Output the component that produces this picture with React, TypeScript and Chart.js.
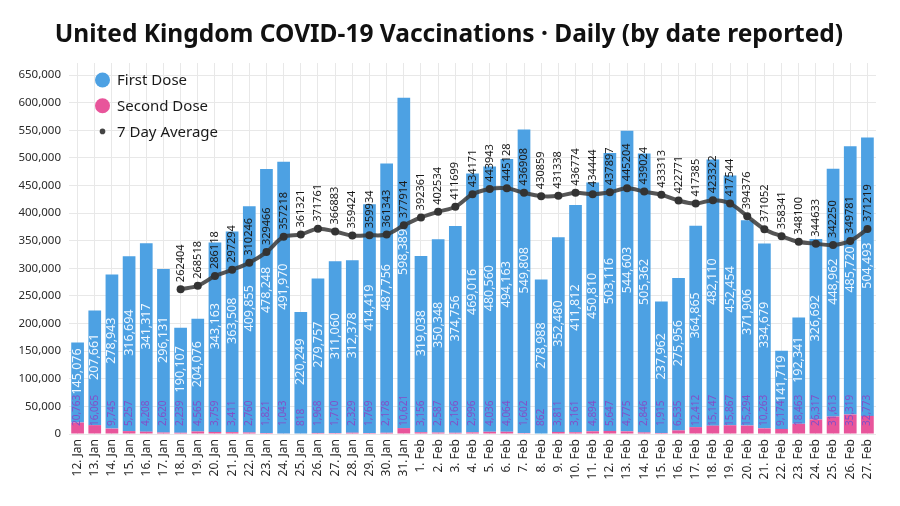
import React, { useEffect, useRef } from "react";
import { Chart, registerables } from "chart.js";

Chart.register(...registerables);

const categories = [
  "12. Jan", "13. Jan", "14. Jan", "15. Jan", "16. Jan", "17. Jan", "18. Jan", "19. Jan", "20. Jan", "21. Jan",
  "22. Jan", "23. Jan", "24. Jan", "25. Jan", "26. Jan", "27. Jan", "28. Jan", "29. Jan", "30. Jan", "31. Jan",
  "1. Feb", "2. Feb", "3. Feb", "4. Feb", "5. Feb", "6. Feb", "7. Feb", "8. Feb", "9. Feb", "10. Feb",
  "11. Feb", "12. Feb", "13. Feb", "14. Feb", "15. Feb", "16. Feb", "17. Feb", "18. Feb", "19. Feb", "20. Feb",
  "21. Feb", "22. Feb", "23. Feb", "24. Feb", "25. Feb", "26. Feb", "27. Feb",
];

const firstDose = [
  145076, 207661, 278943, 316694, 341317, 296131, 190107, 204076, 343163, 363508,
  409855, 478248, 491970, 220249, 279757, 311060, 312378, 414419, 487756, 598389,
  319038, 350348, 374756, 469016, 480560, 494163, 549808, 278988, 352480, 411812,
  450810, 503116, 544603, 505362, 237962, 275956, 364865, 482110, 452454, 371906,
  334679, 141719, 192341, 326692, 448962, 485720, 504493,
];

const secondDose = [
  20763, 16065, 9745, 5257, 4208, 2620, 2239, 4565, 3759, 3411,
  2760, 1821, 1043, 818, 1968, 1710, 2329, 1769, 2178, 10621,
  3156, 2587, 2166, 2996, 4036, 4064, 1602, 862, 3811, 3161,
  4894, 5647, 4775, 2846, 1915, 6535, 12412, 15147, 15867, 15294,
  10263, 9174, 18463, 26317, 31613, 35319, 32773,
];

const sevenDayAvg = [
  null, null, null, null, null, null, 262404, 268518, 286118, 297294,
  310246, 329466, 357218, 361321, 371761, 366883, 359424, 359934, 361343, 377914,
  392361, 402534, 411699, 434171, 443943, 445128, 436908, 430859, 431338, 436774,
  434444, 437897, 445204, 439024, 433313, 422771, 417385, 423322, 417544, 394376,
  371052, 358341, 348100, 344633, 342250, 349781, 371219,
];

const yTicks = [0, 50000, 100000, 150000, 200000, 250000, 300000, 350000, 400000, 450000, 500000, 550000, 600000, 650000];

const TITLE = "United Kingdom COVID-19 Vaccinations · Daily (by date reported)";
const BLUE = "#4da1e3";
const PINK = "#e8559b";
const FONT = "'Noto Sans', sans-serif";

const fmt = (v: number) => v.toLocaleString("en-US");

const decorPlugin = {
  id: "decor",
  afterDatasetsDraw(chart: any) {
    const ctx = chart.ctx;
    const yScale = chart.scales.y;
    const zeroY = yScale.getPixelForValue(0);
    const metaFirst = chart.getDatasetMeta(0);
    const metaSecond = chart.getDatasetMeta(1);
    const metaLine = chart.getDatasetMeta(2);
    ctx.save();
    // first dose labels
    ctx.font = `12.5px ${FONT}`;
    ctx.fillStyle = "#eef7ff";
    ctx.textAlign = "center";
    ctx.textBaseline = "middle";
    metaFirst.data.forEach((el: any, i: number) => {
      const cy = (el.y + el.base) / 2 - 11;
      ctx.save();
      ctx.translate(el.x, cy);
      ctx.rotate(-Math.PI / 2);
      ctx.fillText(fmt(firstDose[i]), 0, 0);
      ctx.restore();
    });
    // second dose labels
    ctx.font = `10px ${FONT}`;
    ctx.fillStyle = "#8250c8";
    ctx.textAlign = "left";
    metaSecond.data.forEach((el: any, i: number) => {
      ctx.save();
      ctx.translate(el.x, zeroY - 8);
      ctx.rotate(-Math.PI / 2);
      ctx.fillText(fmt(secondDose[i]), 0, 0);
      ctx.restore();
    });
    // 7 day labels
    ctx.font = `11px ${FONT}`;
    ctx.fillStyle = "#1a1a1a";
    metaLine.data.forEach((el: any, i: number) => {
      const v = sevenDayAvg[i];
      if (v == null) return;
      ctx.save();
      ctx.translate(el.x, el.y - 7);
      ctx.rotate(-Math.PI / 2);
      ctx.fillText(String(v), 0, 0);
      ctx.restore();
    });
    ctx.restore();
  },
  afterDraw(chart: any) {
    const ctx = chart.ctx;
    ctx.save();
    // title
    ctx.font = `bold 24.5px ${FONT}`;
    ctx.fillStyle = "#111";
    ctx.textAlign = "center";
    ctx.textBaseline = "middle";
    ctx.fillText(TITLE, 449, 35);
    // legend
    const items = [
      { label: "First Dose", color: BLUE, r: 7.5 },
      { label: "Second Dose", color: PINK, r: 7.5 },
      { label: "7 Day Average", color: "#444", r: 2.8 },
    ];
    ctx.font = `15px ${FONT}`;
    ctx.textAlign = "left";
    items.forEach((it, k) => {
      const y = 80 + k * 25.7;
      ctx.beginPath();
      ctx.arc(102.5, y, it.r, 0, Math.PI * 2);
      ctx.fillStyle = it.color;
      ctx.fill();
      ctx.fillStyle = "#1a1a1a";
      ctx.fillText(it.label, 117, y + 1);
    });
    ctx.restore();
  },
};

export default function App() {
  const ref = useRef<HTMLCanvasElement>(null);
  useEffect(() => {
    if (!ref.current) return;
    const chart = new Chart(ref.current, {
      type: "bar",
      data: {
        labels: categories,
        datasets: [
          {
            type: "bar",
            label: "First Dose",
            data: firstDose,
            backgroundColor: BLUE,
            stack: "s",
            order: 2,
            barPercentage: 0.74,
            categoryPercentage: 1,
          },
          {
            type: "bar",
            label: "Second Dose",
            data: secondDose,
            backgroundColor: PINK,
            stack: "s",
            order: 1,
            barPercentage: 0.74,
            categoryPercentage: 1,
          },
          {
            type: "line",
            label: "7 Day Average",
            data: sevenDayAvg as any,
            borderColor: "rgba(55,55,55,0.85)",
            borderWidth: 4,
            pointRadius: 4,
            pointBackgroundColor: "#333",
            pointBorderWidth: 0,
            tension: 0.35,
            order: 0,
          } as any,
        ],
      },
      options: {
        animation: false,
        responsive: false,
        layout: { padding: { top: 63, right: 24, left: 0, bottom: 0 } },
        plugins: { legend: { display: false }, tooltip: { enabled: false }, title: { display: false } },
        scales: {
          x: {
            stacked: true,
            grid: { offset: false, color: "#e8e8e8", drawTicks: false },
            border: { display: false },
            ticks: {
              autoSkip: false,
              maxRotation: 90,
              minRotation: 90,
              padding: 5,
              color: "#2a2a2a",
              font: { family: FONT, size: 12 },
            },
            afterFit: (axis: any) => {
              axis.height = 72;
            },
          },
          y: {
            stacked: true,
            min: 0,
            max: 672000,
            grid: { color: "#e8e8e8", drawTicks: false },
            border: { display: false },
            ticks: {
              padding: 8,
              color: "#2a2a2a",
              font: { family: FONT, size: 11.5 },
              callback: (v: any) => fmt(Number(v)),
            },
            afterBuildTicks: (axis: any) => {
              axis.ticks = yTicks.map((v) => ({ value: v }));
            },
            afterFit: (axis: any) => {
              axis.width = 69;
            },
          },
        },
      },
      plugins: [decorPlugin],
    });
    return () => chart.destroy();
  }, []);
  return (
    <div style={{ position: "fixed", left: 0, top: 0, width: 900, height: 506, background: "#fff" }}>
      <canvas ref={ref} width={900} height={506} style={{ display: "block" }} />
    </div>
  );
}
